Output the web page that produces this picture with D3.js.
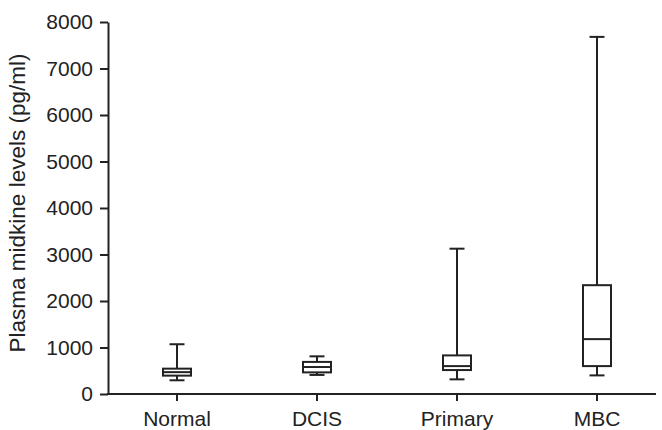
<!DOCTYPE html>
<html>
<head>
<meta charset="utf-8">
<script src="https://cdn.jsdelivr.net/npm/d3@7"></script>
<style>
    body { margin: 0; background: #fff; }
    svg { font-family: "Liberation Sans", Arial, sans-serif; }
    .axis path, .axis line { stroke: #222; stroke-width: 2; }
    .axis text { font-size: 21px; fill: #222; }
</style>
</head>
<body>
<div id="chart"></div>
<script>
// groups and box summaries (pg/ml)
var groups = ["Normal", "DCIS", "Primary", "MBC"];
var whiskerLow = [295, 410, 315, 400];
var q1 = [395, 465, 515, 600];
var median = [470, 580, 600, 1180];
var q3 = [545, 690, 830, 2340];
var whiskerHigh = [1070, 810, 3125, 7680];
var yTicks = [0, 1000, 2000, 3000, 4000, 5000, 6000, 7000, 8000];

document.addEventListener("DOMContentLoaded", function () {
    var svgWidth = 662,
        svgHeight = 430,
        left = 108,
        bottom = 394,
        top = 22;

    var svg = d3.select("#chart")
        .append("svg")
        .attr("width", svgWidth)
        .attr("height", svgHeight);

    var x = d3.scaleBand().domain(groups).range([107, 667]);
    var y = d3.scaleLinear().domain([0, 8000]).range([bottom, top]);

    var data = groups.map(function (g, i) {
        return { name: g, lo: whiskerLow[i], q1: q1[i], med: median[i], q3: q3[i], hi: whiskerHigh[i] };
    });

    // Y axis
    svg.append("g")
        .attr("class", "axis")
        .attr("transform", "translate(" + left + ",0)")
        .call(d3.axisLeft(y).tickValues(yTicks).tickSize(8).tickSizeOuter(0).tickPadding(7).tickFormat(d3.format("d")));

    // X axis
    var xAxis = svg.append("g")
        .attr("class", "axis")
        .attr("transform", "translate(0," + bottom + ")")
        .call(d3.axisBottom(x).tickSize(7).tickSizeOuter(0).tickPadding(10));
    xAxis.select(".domain").remove();
    xAxis.append("line")
        .attr("x1", left - 1).attr("x2", 656)
        .attr("y1", 0).attr("y2", 0)
        .attr("stroke", "#222").attr("stroke-width", 2);

    svg.append("text")
        .attr("transform", "translate(25," + ((top + bottom) / 2 - 5) + ") rotate(-90)")
        .attr("text-anchor", "middle")
        .attr("font-size", 22.5)
        .attr("fill", "#222")
        .text("Plasma midkine levels (pg/ml)");

    var boxW = 28, capW = 15;

    var box = svg.selectAll(".box")
        .data(data)
        .enter().append("g")
        .attr("class", "box")
        .attr("transform", d => "translate(" + (x(d.name) + x.bandwidth() / 2) + ",0)")
        .attr("stroke", "#222")
        .attr("stroke-width", 2)
        .attr("fill", "none");

    // whiskers
    box.append("line").attr("x1", 0).attr("x2", 0).attr("y1", d => y(d.hi)).attr("y2", d => y(d.q3));
    box.append("line").attr("x1", 0).attr("x2", 0).attr("y1", d => y(d.q1)).attr("y2", d => y(d.lo));
    box.append("line").attr("x1", -capW / 2).attr("x2", capW / 2).attr("y1", d => y(d.hi)).attr("y2", d => y(d.hi));
    box.append("line").attr("x1", -capW / 2).attr("x2", capW / 2).attr("y1", d => y(d.lo)).attr("y2", d => y(d.lo));

    // box
    box.append("rect")
        .attr("x", -boxW / 2)
        .attr("width", boxW)
        .attr("y", d => y(d.q3))
        .attr("height", d => y(d.q1) - y(d.q3))
        .attr("fill", "#fff");

    box.append("line").attr("x1", -boxW / 2).attr("x2", boxW / 2).attr("y1", d => y(d.med)).attr("y2", d => y(d.med));
});
</script>
</body>
</html>
